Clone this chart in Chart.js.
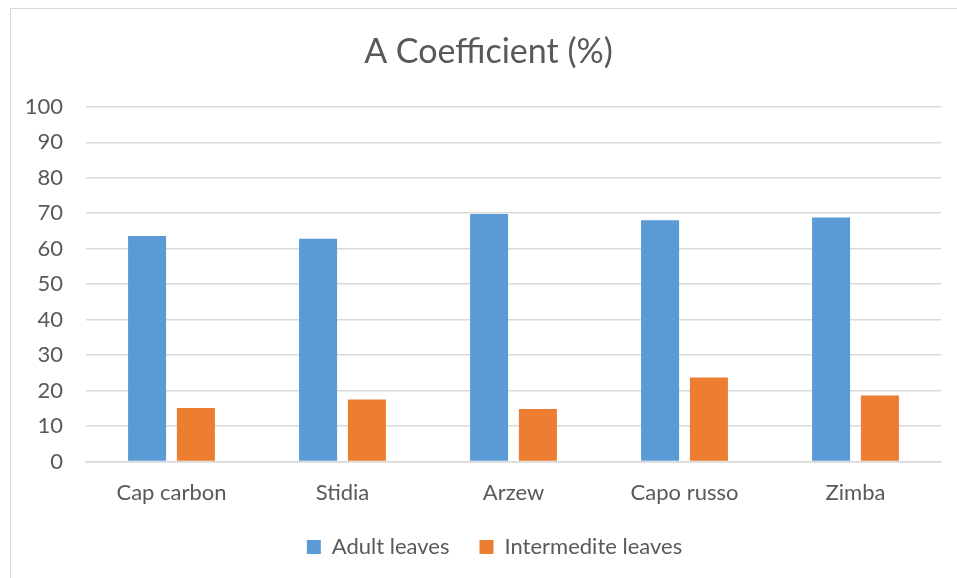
<!DOCTYPE html>
<html>
<head>
<meta charset="utf-8">
<script src="https://cdn.jsdelivr.net/npm/chart.js@4/dist/chart.umd.min.js"></script>
<style>
  body { margin: 0; background: #fff; }
  #wrap { position: relative; width: 957px; height: 578px; overflow: hidden; }
  #frame { position: absolute; left: 10px; top: 8px; width: 1000px; height: 700px;
           border-left: 1px solid #d9d9d9; border-top: 1px solid #d9d9d9; }
  #c { position: absolute; left: 0; top: 0; }
</style>
</head>
<body>
<div id="wrap">
  <div id="frame"></div>
  <canvas id="c" width="957" height="578"></canvas>
</div>
<script>
const sites = ['Cap carbon', 'Stidia', 'Arzew', 'Capo russo', 'Zimba'];
const adultLeaves = [63.6, 62.8, 69.8, 68.0, 68.8];
const intermediteLeaves = [15.1, 17.5, 14.8, 23.7, 18.6];
const yTicks = [0, 10, 20, 30, 40, 50, 60, 70, 80, 90, 100];

const txt = '#595959';
const fam = "Lato, 'Open Sans', sans-serif";

// the frame starts at x=10, so title and legend are centred on it, not on the canvas
const centreOnFrame = {
    id: 'centreOnFrame',
    afterLayout(chart) {
        chart.titleBlock.left = 36;
        chart.legend.left = 48;
        chart.legend.top -= 18;
    }
};

const cht = document.getElementById('c').getContext('2d');
const chart = new Chart(cht, {
    type: 'bar',
    data: {
        labels: sites,
        datasets: [{
            label: 'Adult leaves',
            data: adultLeaves,
            backgroundColor: '#5b9bd5',
            borderWidth: 0,
            categoryPercentage: 0.571,
            barPercentage: 0.779
        }, {
            label: 'Intermedite leaves',
            data: intermediteLeaves,
            backgroundColor: '#ed7d31',
            borderWidth: 0,
            categoryPercentage: 0.571,
            barPercentage: 0.779
        }]
    },
    plugins: [centreOnFrame],
    options: {
        responsive: false,
        animation: false,
        layout: { padding: { top: 32, right: 16, left: 0, bottom: -8 } },
        plugins: {
            title: {
                display: true,
                text: 'A Coefficient (%)',
                color: txt,
                font: { family: fam, size: 34, weight: 'normal' },
                padding: { top: 0, bottom: 34 }
            },
            legend: {
                position: 'bottom',
                labels: {
                    color: txt,
                    font: { family: fam, size: 22 },
                    boxWidth: 14,
                    boxHeight: 14,
                    padding: 30
                }
            },
            tooltip: { enabled: false }
        },
        scales: {
            y: {
                min: 0,
                max: 100,
                afterBuildTicks: s => { s.ticks = yTicks.map(v => ({ value: v })); },
                afterFit: s => { s.width = 86; },
                ticks: {
                    color: txt,
                    font: { family: fam, size: 22 },
                    padding: 23
                },
                grid: { color: '#d9d9d9', lineWidth: 1.5, drawTicks: false },
                border: { display: false }
            },
            x: {
                ticks: {
                    color: txt,
                    font: { family: fam, size: 22 },
                    padding: 18
                },
                grid: { display: false, drawTicks: false },
                border: { color: '#d9d9d9', width: 1.5 }
            }
        }
    }
});
</script>
</body>
</html>
